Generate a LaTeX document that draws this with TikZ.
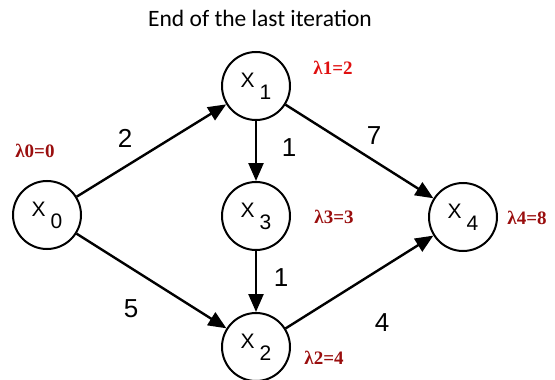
\documentclass[tikz,border=0pt]{standalone}
\usepackage{fontspec}
\setmainfont{Liberation Sans}
\newfontfamily\titlefont{Carlito}
\newfontfamily\lamfont{Liberation Serif}
\usetikzlibrary{arrows.meta}
\definecolor{lamred}{HTML}{9A0E0E}
\definecolor{lamred2}{HTML}{E01010}
\newcommand{\xsub}[1]{X\hspace{5pt}\raisebox{-12pt}{#1}}
\begin{document}
\begin{tikzpicture}[x=1pt,y=-1pt,
  vert/.style={circle,draw,line width=2pt,minimum size=68pt,inner sep=0pt,font=\fontsize{21}{21}\selectfont},
  arc/.style={line width=2.4pt,-{Triangle[length=18pt,width=15pt]}},
  wlab/.style={font=\fontsize{26}{26}\selectfont},
  lam/.style={font=\lamfont\bfseries\fontsize{19}{19}\selectfont,text=lamred,inner sep=0pt}]
\useasboundingbox (0,0) rectangle (555,380);
\node[font=\titlefont\fontsize{23.5}{23.5}\selectfont] (title) at (260,18) {End of the last iteration};
\node[vert] (x0) at (47,215) {\xsub{0}};
\node[vert] (x1) at (256,86) {\xsub{1}};
\node[vert] (x3) at (256,216) {\xsub{3}};
\node[vert] (x2) at (256,347) {\xsub{2}};
\node[vert] (x4) at (463,217) {\xsub{4}};
\draw[arc] (x0) -- (x1);
\draw[arc] (x0) -- (x2);
\draw[arc] (x1) -- (x3);
\draw[arc] (x3) -- (x2);
\draw[arc] (x1) -- (x4);
\draw[arc] (x2) -- (x4);
\node[wlab] (w01) at (125,138) {2};
\node[wlab] (w13) at (289,148) {1};
\node[wlab] (w14) at (374,136) {7};
\node[wlab] (w32) at (281,278) {1};
\node[wlab] (w02) at (131,309) {5};
\node[wlab] (w24) at (382,323) {4};
\node[lam] (l0) at (35,151) {λ0=0};
\node[lam,text=lamred2] (l1) at (333,68) {λ1=2};
\node[lam] (l3) at (334,217) {λ3=3};
\node[lam] (l4) at (527,218) {λ4=8};
\node[lam] (l2) at (324,358) {λ2=4};
\end{tikzpicture}
\end{document}
